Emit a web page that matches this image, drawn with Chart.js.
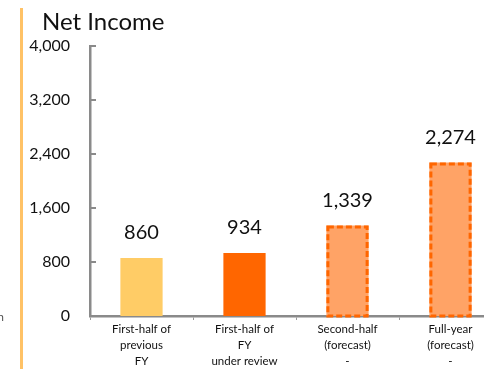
<!DOCTYPE html>
<html>
<head>
<meta charset="utf-8">
<script src="https://cdn.jsdelivr.net/npm/chart.js@4"></script>
<style>
  html, body { margin:0; padding:0; background:#fff; overflow:hidden; width:484px; height:369px; }
  #wrap { position:absolute; left:0; top:0; width:510px; height:369px; }
  #bar { position:absolute; left:20px; top:8px; width:3px; height:361px; background:#FFC266; }
  #title { position:absolute; left:42px; top:6px; font-family:Lato, 'Open Sans', sans-serif; font-size:24px; color:#111; white-space:nowrap; }
  #unit { position:absolute; left:-76px; top:309px; width:80px; text-align:right; font-family:Lato, sans-serif; font-size:12px; color:#555; white-space:nowrap; }
</style>
</head>
<body>
<div id="wrap"><canvas id="c" width="510" height="369"></canvas></div>
<div id="bar"></div>
<div id="title">Net Income</div>
<div id="unit">Million yen</div>
<script>
const categories = [
  ['First-half of','previous','FY'],
  ['First-half of','FY','under review'],
  ['Second-half','(forecast)','-'],
  ['Full-year','(forecast)','-']
];
const netIncome = [860, 934, 1339, 2274];
const forecastFlags = [false, false, true, true];
const yTicks = [0, 800, 1600, 2400, 3200, 4000];

const FONT = "Lato, 'Open Sans', sans-serif";

const overlay = {
  id: 'overlay',
  afterDatasetsDraw(chart) {
    const ctx = chart.ctx;
    const meta = chart.getDatasetMeta(0);
    const y = chart.scales.y;
    meta.data.forEach((el, i) => {
      if (!forecastFlags[i]) return;
      const p = el.getProps(['x','y','width','base'], true);
      ctx.save();
      ctx.strokeStyle = '#FF6600';
      ctx.lineWidth = 3;
      ctx.setLineDash([6, 3]);
      ctx.strokeRect(p.x - p.width/2 + 1.5, p.y + 1.5, p.width - 3, p.base - p.y - 1.5);
      ctx.restore();
    });
    ctx.save();
    ctx.strokeStyle = '#8a8a8a';
    ctx.lineWidth = 2;
    yTicks.forEach(v => {
      const py = Math.round(y.getPixelForValue(v));
      ctx.beginPath();
      ctx.moveTo(chart.chartArea.left, py);
      ctx.lineTo(chart.chartArea.left + 6, py);
      ctx.stroke();
    });
    ctx.restore();
    ctx.save();
    ctx.fillStyle = '#111';
    ctx.font = '20px ' + FONT;
    ctx.textAlign = 'center';
    ctx.textBaseline = 'bottom';
    meta.data.forEach((el, i) => {
      const p = el.getProps(['x','y'], true);
      ctx.fillText(netIncome[i].toLocaleString('en-US'), p.x, p.y - 15);
    });
    ctx.restore();
  }
};

new Chart(document.getElementById('c'), {
  type: 'bar',
  data: {
    labels: categories,
    datasets: [{
      data: netIncome,
      backgroundColor: ['#FFCC66', '#FF6600', '#FFA366', '#FFA366'],
      borderWidth: 0,
      categoryPercentage: 1,
      barPercentage: 0.41
    }]
  },
  options: {
    responsive: false,
    animation: false,
    layout: { padding: { left: 0, right: 8, top: 46, bottom: 0 } },
    plugins: { legend: { display: false }, tooltip: { enabled: false }, title: { display: false } },
    scales: {
      y: {
        min: 0, max: 4000,
        ticks: { stepSize: 800, padding: 20, color: '#111', font: { family: FONT, size: 16 } },
        grid: { display: false, drawTicks: false },
        border: { display: true, color: '#8a8a8a', width: 2.5 },
        afterFit(s) { s.width = 90; }
      },
      x: {
        grid: { display: true, offset: true, drawOnChartArea: false, tickLength: 4, color: '#999', lineWidth: 1 },
        border: { display: true, color: '#8a8a8a', width: 2.5 },
        ticks: { padding: 1, color: '#111', maxRotation: 0, autoSkip: false, font: { family: FONT, size: 11.5, lineHeight: 1.4 } },
        afterFit(s) { s.height = 53; }
      }
    }
  },
  plugins: [overlay]
});
</script>
</body>
</html>
